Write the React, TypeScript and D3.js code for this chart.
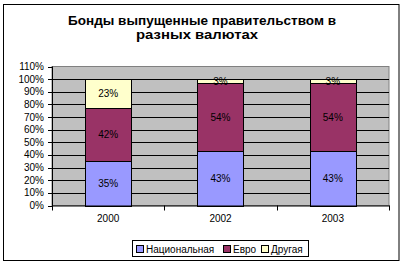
import React from "react";
import * as d3 from "d3";

const categories = ["2000", "2002", "2003"];
const seriesNames = ["Национальная", "Евро", "Другая"];
const national = [35, 43, 43];
const euro = [42, 54, 54];
const other = [23, 3, 3];
const yTicks = [0, 10, 20, 30, 40, 50, 60, 70, 80, 90, 100, 110];
const colors = ["#9999FF", "#993366", "#FFFFCC"];
const titleLines = ["Бонды выпущенные правительством в", "разных валютах"];

const FONT = "Arial, 'Liberation Sans', sans-serif";

export default function App() {
  const W = 404, H = 264;
  const left = 52, right = 389, top = 66.5, bottom = 205.5;
  const x = d3.scaleBand<string>().domain(categories).range([left, right]).paddingInner(0.59).paddingOuter(0.295);
  const y = d3.scaleLinear().domain([0, 110]).range([bottom, top]);
  const series = [national, euro, other];
  const rows = categories.map((c, i) => ({ cat: c, s0: national[i], s1: euro[i], s2: other[i] }));
  const stack = d3.stack<any>().keys(["s0", "s1", "s2"])(rows);
  const step = (right - left) / categories.length;

  const legendItems = [
    { name: seriesNames[0], x: 136, tx: 146 },
    { name: seriesNames[1], x: 223, tx: 233 },
    { name: seriesNames[2], x: 261, tx: 271 },
  ];

  return (
    <svg width={W} height={H} style={{ position: "absolute", left: 0, top: 0 }} fontFamily={FONT}>
      <rect x={0} y={0} width={W} height={H} fill="#fff" />
      <rect x={3.5} y={4.5} width={395.5} height={256} fill="#fff" stroke="#000" strokeWidth={1} />
      {/* title */}
      <text x={202} y={25} textAnchor="middle" fontSize={12} fontWeight="bold" textLength={268} lengthAdjust="spacingAndGlyphs">{titleLines[0]}</text>
      <text x={197} y={39} textAnchor="middle" fontSize={12} fontWeight="bold" textLength={122} lengthAdjust="spacingAndGlyphs">{titleLines[1]}</text>
      {/* plot area */}
      <rect x={left} y={top} width={right - left} height={bottom - top} fill="#C0C0C0" stroke="#808080" strokeWidth={1} />
      {yTicks.filter(t => t > 0 && t < 110).map(t => (
        <line key={t} x1={left} x2={right} y1={Math.round(y(t)) + 0.5} y2={Math.round(y(t)) + 0.5} stroke="#000" strokeWidth={1} />
      ))}
      {/* bars */}
      {stack.map((layer, si) => (
        <g key={si}>
          {layer.map((d, ci) => {
            const x0 = x(categories[ci])!;
            const y0 = Math.round(y(d[1])) + 0.5;
            const y1 = Math.round(y(d[0])) + 0.5;
            return (
              <rect key={ci} x={Math.round(x0) + 0.5} y={y0} width={Math.round(x.bandwidth())} height={y1 - y0} fill={colors[si]} stroke="#000" strokeWidth={1} />
            );
          })}
        </g>
      ))}
      {stack.map((layer, si) => (
        <g key={"l" + si}>
          {layer.map((d, ci) => (
            <text key={ci} x={x(categories[ci])! + x.bandwidth() / 2} y={(y(d[0]) + y(d[1])) / 2 + 3.5} textAnchor="middle" fontSize={10} fill="#000">
              {series[si][ci]}%
            </text>
          ))}
        </g>
      ))}
      {/* axes */}
      <line x1={left + 0.5} x2={left + 0.5} y1={top} y2={bottom + 0.5} stroke="#000" />
      <line x1={left} x2={right + 0.5} y1={bottom + 0.5} y2={bottom + 0.5} stroke="#000" />
      {yTicks.map(t => (
        <g key={t}>
          <line x1={left - 4} x2={left} y1={Math.round(y(t)) + 0.5} y2={Math.round(y(t)) + 0.5} stroke="#000" />
          <text x={44} y={y(t) + 3.5} textAnchor="end" fontSize={10}>{t}%</text>
        </g>
      ))}
      {d3.range(categories.length + 1).map(i => (
        <line key={i} x1={Math.round(left + i * step) + 0.5} x2={Math.round(left + i * step) + 0.5} y1={bottom} y2={bottom + 5} stroke="#000" />
      ))}
      {categories.map(c => (
        <text key={c} x={x(c)! + x.bandwidth() / 2} y={222} textAnchor="middle" fontSize={10}>{c}</text>
      ))}
      {/* legend */}
      <rect x={132.5} y={240.5} width={176} height={16} fill="#fff" stroke="#000" />
      {legendItems.map((it, i) => (
        <g key={i}>
          <rect x={it.x + 0.5} y={245.5} width={7} height={7} fill={colors[i]} stroke="#000" />
          <text x={it.tx} y={252.5} fontSize={10}>{it.name}</text>
        </g>
      ))}
    </svg>
  );
}
